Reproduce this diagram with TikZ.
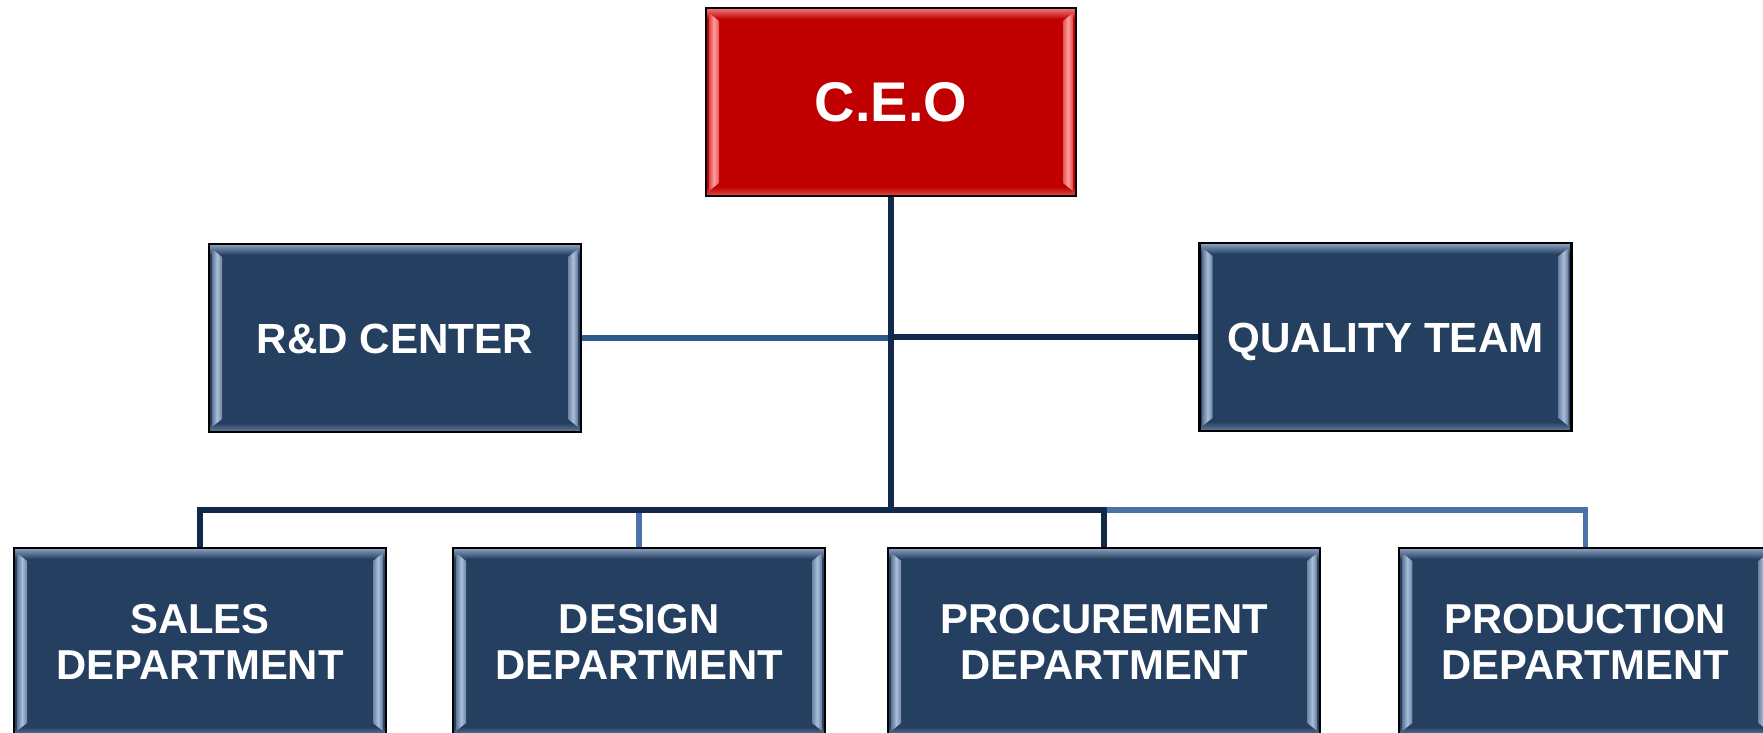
\documentclass[tikz,border=0pt]{standalone}
\usepackage{fontspec}
\setmainfont{Liberation Sans}
\usepackage{tikz}
\usetikzlibrary{calc,positioning}

\definecolor{navy}{HTML}{243F60}
\definecolor{navyhi}{HTML}{A9BEDA}
\definecolor{ceored}{HTML}{C00000}
\definecolor{ceohi}{HTML}{FF9C9C}
\definecolor{trunkcol}{HTML}{13294B}
\definecolor{branchcol}{HTML}{4A72A8}
\definecolor{rdcol}{HTML}{2E5A8C}

\begin{document}
\begin{tikzpicture}[
    unit/.style 2 args={draw=black, line width=0.6pt, fill=#1, text=white, align=center,
      minimum width=3.72cm, minimum height=1.88cm, inner sep=0pt,
      path picture={
        \coordinate (nw) at (path picture bounding box.north west);
        \coordinate (se) at (path picture bounding box.south east);
        \shade[top color=#2!80!#1, bottom color=#1] (nw) rectangle ($(se|-nw)+(0,-0.11)$);
        \shade[top color=#1, bottom color=#2!50!#1] ($(nw|-se)+(0,0.09)$) rectangle (se);
        \shade[left color=#2!45!#1, right color=#2!55!#1, middle color=#2]
          ($(nw)+(0.03,-0.05)$) -- ($(nw)+(0.13,-0.13)$) -- ($(nw|-se)+(0.13,0.13)$) -- ($(nw|-se)+(0.03,0.05)$) -- cycle;
        \shade[left color=#2!55!#1, right color=#2!45!#1, middle color=#2]
          ($(se|-nw)+(-0.03,-0.05)$) -- ($(se|-nw)+(-0.13,-0.13)$) -- ($(se)+(-0.13,0.13)$) -- ($(se)+(-0.03,0.05)$) -- cycle;
      }},
    dept/.style={unit={navy}{navyhi}, font=\bfseries\fontsize{11.9}{12.9}\selectfont},
    staff/.style={unit={navy}{navyhi}, font=\bfseries\fontsize{12}{14}\selectfont, text height=8.6pt, text depth=0pt},
    trunk/.style={draw=trunkcol, line width=1.6pt},
    branch/.style={draw=branchcol, line width=1.6pt},
    rdlink/.style={draw=rdcol, line width=1.6pt}]
  \useasboundingbox (0,0) rectangle (17.63,-7.33);

  % top of the chart
  \node[unit={ceored}{ceohi}, minimum width=3.70cm, font=\bfseries\fontsize{15.9}{18}\selectfont] (ceo) at (8.91,-1.02) {C.E.O};
  \node[staff] (rd) at (3.95,-3.38) {R\&D CENTER};
  \node[staff] (quality) at (13.855,-3.37) {QUALITY TEAM};

  % departments
  \node[dept] (sales) at (2.00,-6.42) {SALES\\DEPARTMENT};
  \node[dept, right=6.5mm of sales] (design) {DESIGN\\DEPARTMENT};
  \node[dept, right=6.1mm of design, minimum width=4.32cm] (proc) {PROCUREMENT\\DEPARTMENT};
  \node[dept, right=7.7mm of proc] (prod) {PRODUCTION\\DEPARTMENT};

  \coordinate (hub) at (ceo.south |- 0,-5.10);

  % connectors
  \draw[rdlink] (rd.east) -- (rd.east -| hub);
  \draw[trunk] (quality.west) -- (quality.west -| hub);
  \draw[branch] (design.north) -- (design.north |- hub);
  \draw[branch] (proc.north |- hub) -| (prod.north);
  \draw[trunk] (hub) -| (sales.north);
  \draw[trunk] (hub) -| (proc.north);
  \draw[trunk] (ceo.south) -- (hub);
\end{tikzpicture}
\end{document}
